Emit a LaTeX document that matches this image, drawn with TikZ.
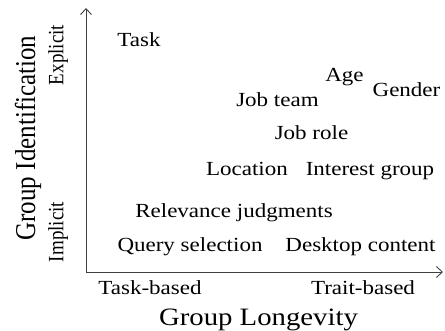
\documentclass[tikz,border=0pt]{standalone}
\usepackage{graphicx}
\usepackage{fontspec}
\setmainfont{Liberation Serif}[FakeStretch=1.15]
\newfontfamily\rotfont{Liberation Serif}
\usetikzlibrary{arrows.meta}

\newcommand{\widen}[1]{\scalebox{1}[1.15]{#1}}

\begin{document}
\begin{tikzpicture}[x=1pt, y=-1pt]
    \tikzset{
        lbl/.style = {
            anchor = base,
            inner sep = 0pt,
            text = black,
            font = \fontsize{20}{23}\selectfont
        },
        axtitle/.style = {
            lbl,
            font = \fontsize{25}{28}\selectfont
        },
        rotlbl/.style = {
            anchor = center,
            inner sep = 0pt,
            rotate = 90,
            text = black,
            font = \rotfont\fontsize{19}{22}\selectfont
        },
        axis/.style = {
            draw = black!75,
            line width = 0.9pt,
            -{Straight Barb[length=6pt, width=11pt]}
        }
    }
    \useasboundingbox (0,0) rectangle (445,331);

    % axes
    \coordinate (o) at (86,272);
    \coordinate (ytop) at (86,8);
    \coordinate (xend) at (443,272);
    \draw[axis] (o) -- (ytop);
    \draw[axis] (o) -- (xend);

    % groups
    \foreach \nm/\x/\y/\t in {
        task/139/47/Task,
        age/344.5/82/Age,
        gender/406.5/97/Gender,
        jobteam/277.5/107/Job team,
        jobrole/311.5/140/Job role,
        location/247/176/Location,
        interest/370/176/Interest group,
        relevance/234/218/Relevance judgments,
        query/190/252/Query selection,
        desktop/360.5/252/Desktop content}{
        \node[lbl] (\nm) at (\x,\y) {\t};
    }

    % axis labels
    \node[lbl] (taskbased) at (150,295) {Task-based};
    \node[lbl] (traitbased) at (363,295) {Trait-based};
    \node[axtitle] (longevity) at (258.5,326) {Group Longevity};
    \node[rotlbl, font = \rotfont\fontsize{25}{28}\selectfont] (ident) at (28,138) {\widen{Group Identification}};
    \node[rotlbl] (explicit) at (58,55) {\widen{Explicit}};
    \node[rotlbl] (implicit) at (58,232) {\widen{Implicit}};

\end{tikzpicture}
\end{document}
